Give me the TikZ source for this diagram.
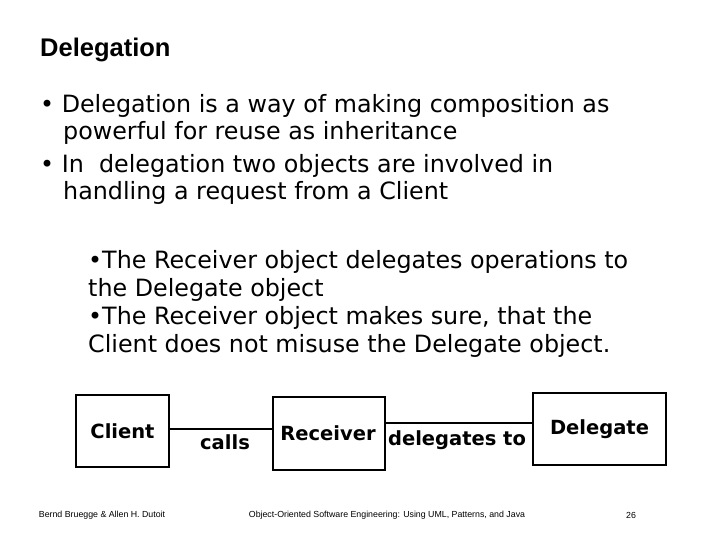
\documentclass[tikz,border=0pt]{standalone}
\usepackage{fontspec}
\setmainfont{DejaVu Sans}
\newfontfamily\arialfont{Liberation Sans}
\usetikzlibrary{positioning}

\begin{document}
\begin{tikzpicture}[x=1pt, y=-1pt,
		txt/.style={anchor=west, inner sep=0pt, font=\fontsize{23.8}{28}\selectfont},
		objbox/.style={draw, line width=1.6pt, font=\fontsize{19.5}{22}\selectfont\bfseries, inner sep=0pt},
		rel/.style={font=\fontsize{19.5}{22}\selectfont\bfseries, inner sep=0pt},
		foot/.style={font=\arialfont\fontsize{8.8}{10}\selectfont, inner sep=0pt}]
	
	\useasboundingbox[fill=white] (0,0) rectangle (720,540);
	
	% Title
	\node[anchor=west, inner sep=0pt, font=\arialfont\bfseries\fontsize{25.5}{28}\selectfont] (title) at (40,50) {Delegation};
	
	% Bullets
	\node[txt] (b1) at (40,106) {\textbullet\ Delegation is a way of making composition as};
	\node[txt] (b1b) at (63,133) {powerful for reuse as inheritance};
	\node[txt] (b2) at (40,166) {\textbullet\ In\ \ delegation two objects are involved in};
	\node[txt] (b2b) at (63,193) {handling a request from a Client};
	
	% Sub-text
	\node[txt] (s1) at (88,262) {\textbullet The Receiver object delegates operations to};
	\node[txt] (s2) at (88,290) {the Delegate object};
	\node[txt] (s3) at (88,318) {\textbullet The Receiver object makes sure, that the};
	\node[txt] (s4) at (88,346) {Client does not misuse the Delegate object.};
	
	% Objects
	\node[objbox, minimum width=93pt, minimum height=72pt] (client) at (122.5,431) {Client};
	\node[objbox, minimum width=112pt, minimum height=73pt, anchor=north west] (receiver) at (272,396) {};
	\node[rel] (recvlbl) at (328,433) {Receiver};
	\node[objbox, minimum width=133pt, minimum height=72pt] (delegate) at (599.5,429) {Delegate};
	
	% Associations
	\draw[line width=1.6pt] (client.east |- 0,429) -- (receiver.west |- 0,429);
	\draw[line width=1.6pt] (receiver.east |- 0,423) -- (delegate.west |- 0,423);
	\node[rel] (calls) at (225,442) {calls};
	\node[rel] (delegates) at (457,440) {delegates to};
	
	% Footer
	\node[foot] (author) at (102,515) {Bernd Bruegge \& Allen H. Dutoit};
	\node[foot] (book) at (387,515) {Object-Oriented Software Engineering: Using UML, Patterns, and Java};
	\node[foot] (page) at (631,515) {26};
	
\end{tikzpicture}
\end{document}
